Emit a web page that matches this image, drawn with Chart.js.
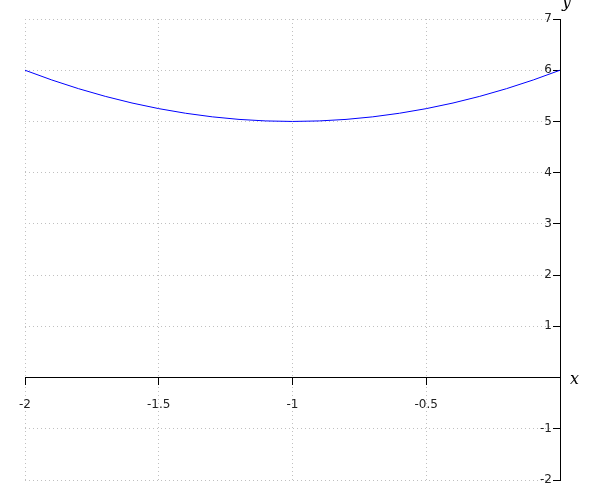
<!DOCTYPE html>
<html>
<head>
<meta charset="utf-8">
<script src="https://cdn.jsdelivr.net/npm/chart.js@4/dist/chart.umd.min.js"></script>
<style>
html,body{margin:0;padding:0;background:#fff;}
#wrap{width:600px;height:500px;}
</style>
</head>
<body>
<div id="wrap"><canvas id="c" width="600" height="500"></canvas></div>
<script>
// Values
const xValues = [-2, -1.9, -1.8, -1.7, -1.6, -1.5, -1.4, -1.3, -1.2, -1.1, -1, -0.9, -0.8, -0.7, -0.6, -0.5, -0.4, -0.3, -0.2, -0.1, 0];
const yValues = [6, 5.81, 5.64, 5.49, 5.36, 5.25, 5.16, 5.09, 5.04, 5.01, 5, 5.01, 5.04, 5.09, 5.16, 5.25, 5.36, 5.49, 5.64, 5.81, 6];
const xRange = [-2, 0];
const yRange = [-2, 7];
const xStep = 0.5;
const yStep = 1;
const xTitle = 'x';
const yTitle = 'y';

const points = xValues.map((x, i) => ({x: x, y: yValues[i]}));

// y-axis labels sit left of the inward tick marks
const shiftYLabels = {
  id: 'shiftYLabels',
  beforeDraw(chart) {
    const s = chart.scales.y;
    const items = s.getLabelItems(chart.chartArea);
    if (!s._shifted) {
      items.forEach(it => { it.options.translation[0] -= 8; });
      s._shifted = true;
    }
  },
  afterUpdate(chart) { chart.scales.y._shifted = false; }
};

const axisTitles = {
  id: 'axisTitles',
  afterDraw(chart) {
    const ctx = chart.ctx;
    const xs = chart.scales.x, ys = chart.scales.y;
    ctx.save();
    ctx.fillStyle = '#000';
    ctx.font = 'italic 16px "DejaVu Serif", "Liberation Serif", serif';
    ctx.textAlign = 'left';
    ctx.textBaseline = 'middle';
    ctx.fillText(xTitle, xs.getPixelForValue(xRange[1]) + 10, ys.getPixelForValue(0) + 2);
    ctx.textBaseline = 'bottom';
    ctx.fillText(yTitle, xs.getPixelForValue(0) + 2, ys.getPixelForValue(yRange[1]) - 8);
    ctx.restore();
  }
};

const tickFont = {family: '"DejaVu Sans", sans-serif', size: 12};

new Chart(document.getElementById('c'), {
  type: 'scatter',
  data: {
    datasets: [{
      data: points,
      showLine: true,
      borderColor: '#0000ff',
      borderWidth: 1,
      pointRadius: 0,
      tension: 0,
      fill: false
    }]
  },
  options: {
    responsive: false,
    animation: false,
    devicePixelRatio: 1,
    layout: {padding: {left: 25, right: 40, top: 19, bottom: 20}},
    plugins: {legend: {display: false}, tooltip: {enabled: false}},
    scales: {
      x: {
        type: 'linear',
        position: {y: 0},
        min: xRange[0], max: xRange[1],
        ticks: {
          stepSize: xStep,
          color: '#222',
          font: tickFont,
          padding: 13,
          maxRotation: 0,
          callback: (v) => v === 0 ? '' : String(v)
        },
        grid: {
          color: '#c0c0c0',
          lineWidth: 1,
          tickLength: 7,
          tickColor: '#000',
          tickBorderDash: [],
          drawTicks: true
        },
        border: {display: true, color: '#000', width: 1, dash: [1, 3]}
      },
      y: {
        type: 'linear',
        position: {x: 0},
        min: yRange[0], max: yRange[1],
        ticks: {
          stepSize: yStep,
          color: '#222',
          font: tickFont,
          padding: 2,
          callback: (v) => v === 0 ? '' : String(v)
        },
        grid: {
          color: '#c0c0c0',
          lineWidth: 1,
          tickLength: 7,
          tickColor: '#000',
          tickBorderDash: [],
          drawTicks: true
        },
        border: {display: true, color: '#000', width: 1, dash: [1, 3]}
      }
    }
  },
  plugins: [shiftYLabels, axisTitles]
});
</script>
</body>
</html>
